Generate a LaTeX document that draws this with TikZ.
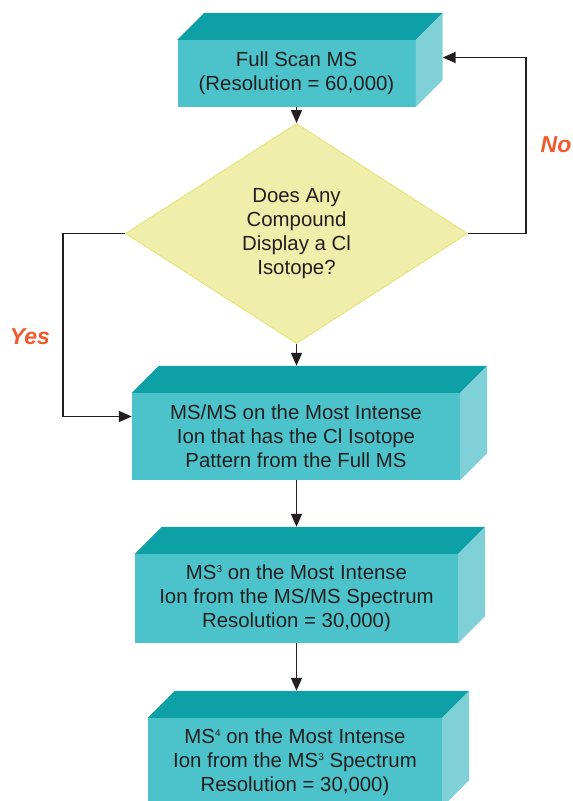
\documentclass[tikz,border=0pt]{standalone}
\usepackage{fontspec}
\setmainfont{Liberation Sans}
\usetikzlibrary{shapes.geometric, arrows.meta, positioning, calc}

\definecolor{slabfront}{HTML}{4CC3CA}
\definecolor{slabtop}{HTML}{0EA0A7}
\definecolor{slabside}{HTML}{7FD1D7}
\definecolor{queryfill}{HTML}{F0EEAB}
\definecolor{queryedge}{HTML}{E8E47C}
\definecolor{inktext}{HTML}{231F20}
\definecolor{answer}{HTML}{F05A2C}

\newcommand{\msorder}[1]{\raisebox{7pt}{\fontsize{10}{10}\selectfont#1}}

\begin{document}
\begin{tikzpicture}[x=1pt, y=-1pt, >={Stealth[inset=0pt,length=13pt,width=11pt]},
    font=\fontsize{20.4}{24}\selectfont,
    slab/.style={rectangle, fill=slabfront, text=inktext, align=center, inner sep=0pt},
    query/.style={diamond, fill=queryfill, draw=queryedge, line width=1pt,
      text=inktext, align=center, inner sep=0pt},
    answer/.style={font=\fontsize{23}{27}\selectfont\bfseries\itshape, text=answer},
    flow/.style={->, line width=1.6pt, draw=inktext}]

  \clip (0,0) rectangle (573,801);

  \node[slab, minimum width=238pt, minimum height=67pt] (full) at (296.5,73.5)
    {Full Scan MS\\(Resolution = 60,000)};
  \node[query, minimum width=342pt, minimum height=220pt] (check) at (296.5,233.5)
    {Does Any\\Compound\\Display a Cl\\Isotope?};
  \node[slab, minimum width=328pt, minimum height=87pt] (msms) at (296,436.5)
    {MS/MS on the Most Intense\\Ion that has the Cl Isotope\\Pattern from the Full MS};
  \node[slab, minimum width=323pt, minimum height=89pt] (msthree) at (296.5,598.5)
    {MS\msorder{3} on the Most Intense\\Ion from the MS/MS Spectrum\\Resolution = 30,000)};
  \node[slab, minimum width=294pt, minimum height=89pt] (msfour) at (295,762.5)
    {MS\msorder{4} on the Most Intense\\Ion from the MS\msorder{3} Spectrum\\Resolution = 30,000)};

  % top and side faces of the slabs
  \foreach \b in {full,msms,msthree,msfour} {
    \fill[slabtop] (\b.north west) -- (\b.north east) -- ++(27,-27)
      -- ([shift={(27,-27)}]\b.north west) -- cycle;
    \fill[slabside] (\b.north east) -- ++(27,-27)
      -- ([shift={(27,-27)}]\b.south east) -- (\b.south east) -- cycle;
  }

  \draw[flow] (full.south) -- (check.north);
  \draw[flow] (check.south) -- ([yshift=27pt]check.south |- msms.north);
  \draw[flow] (msms.south -| check.south) -- ([yshift=27pt]check.south |- msthree.north);
  \draw[flow] (msthree.south -| check.south) -- ([yshift=27pt]check.south |- msfour.north);

  \draw[flow] (check.east) -- ++(58,0) |- ([shift={(27pt,16pt)}]full.east);
  \draw[flow] (check.west) -- ++(-62,0) |- ([yshift=20pt]msms.west);

  \node[answer] (no) at (556,145) {No};
  \node[answer] (yes) at (30,337) {Yes};
\end{tikzpicture}
\end{document}
